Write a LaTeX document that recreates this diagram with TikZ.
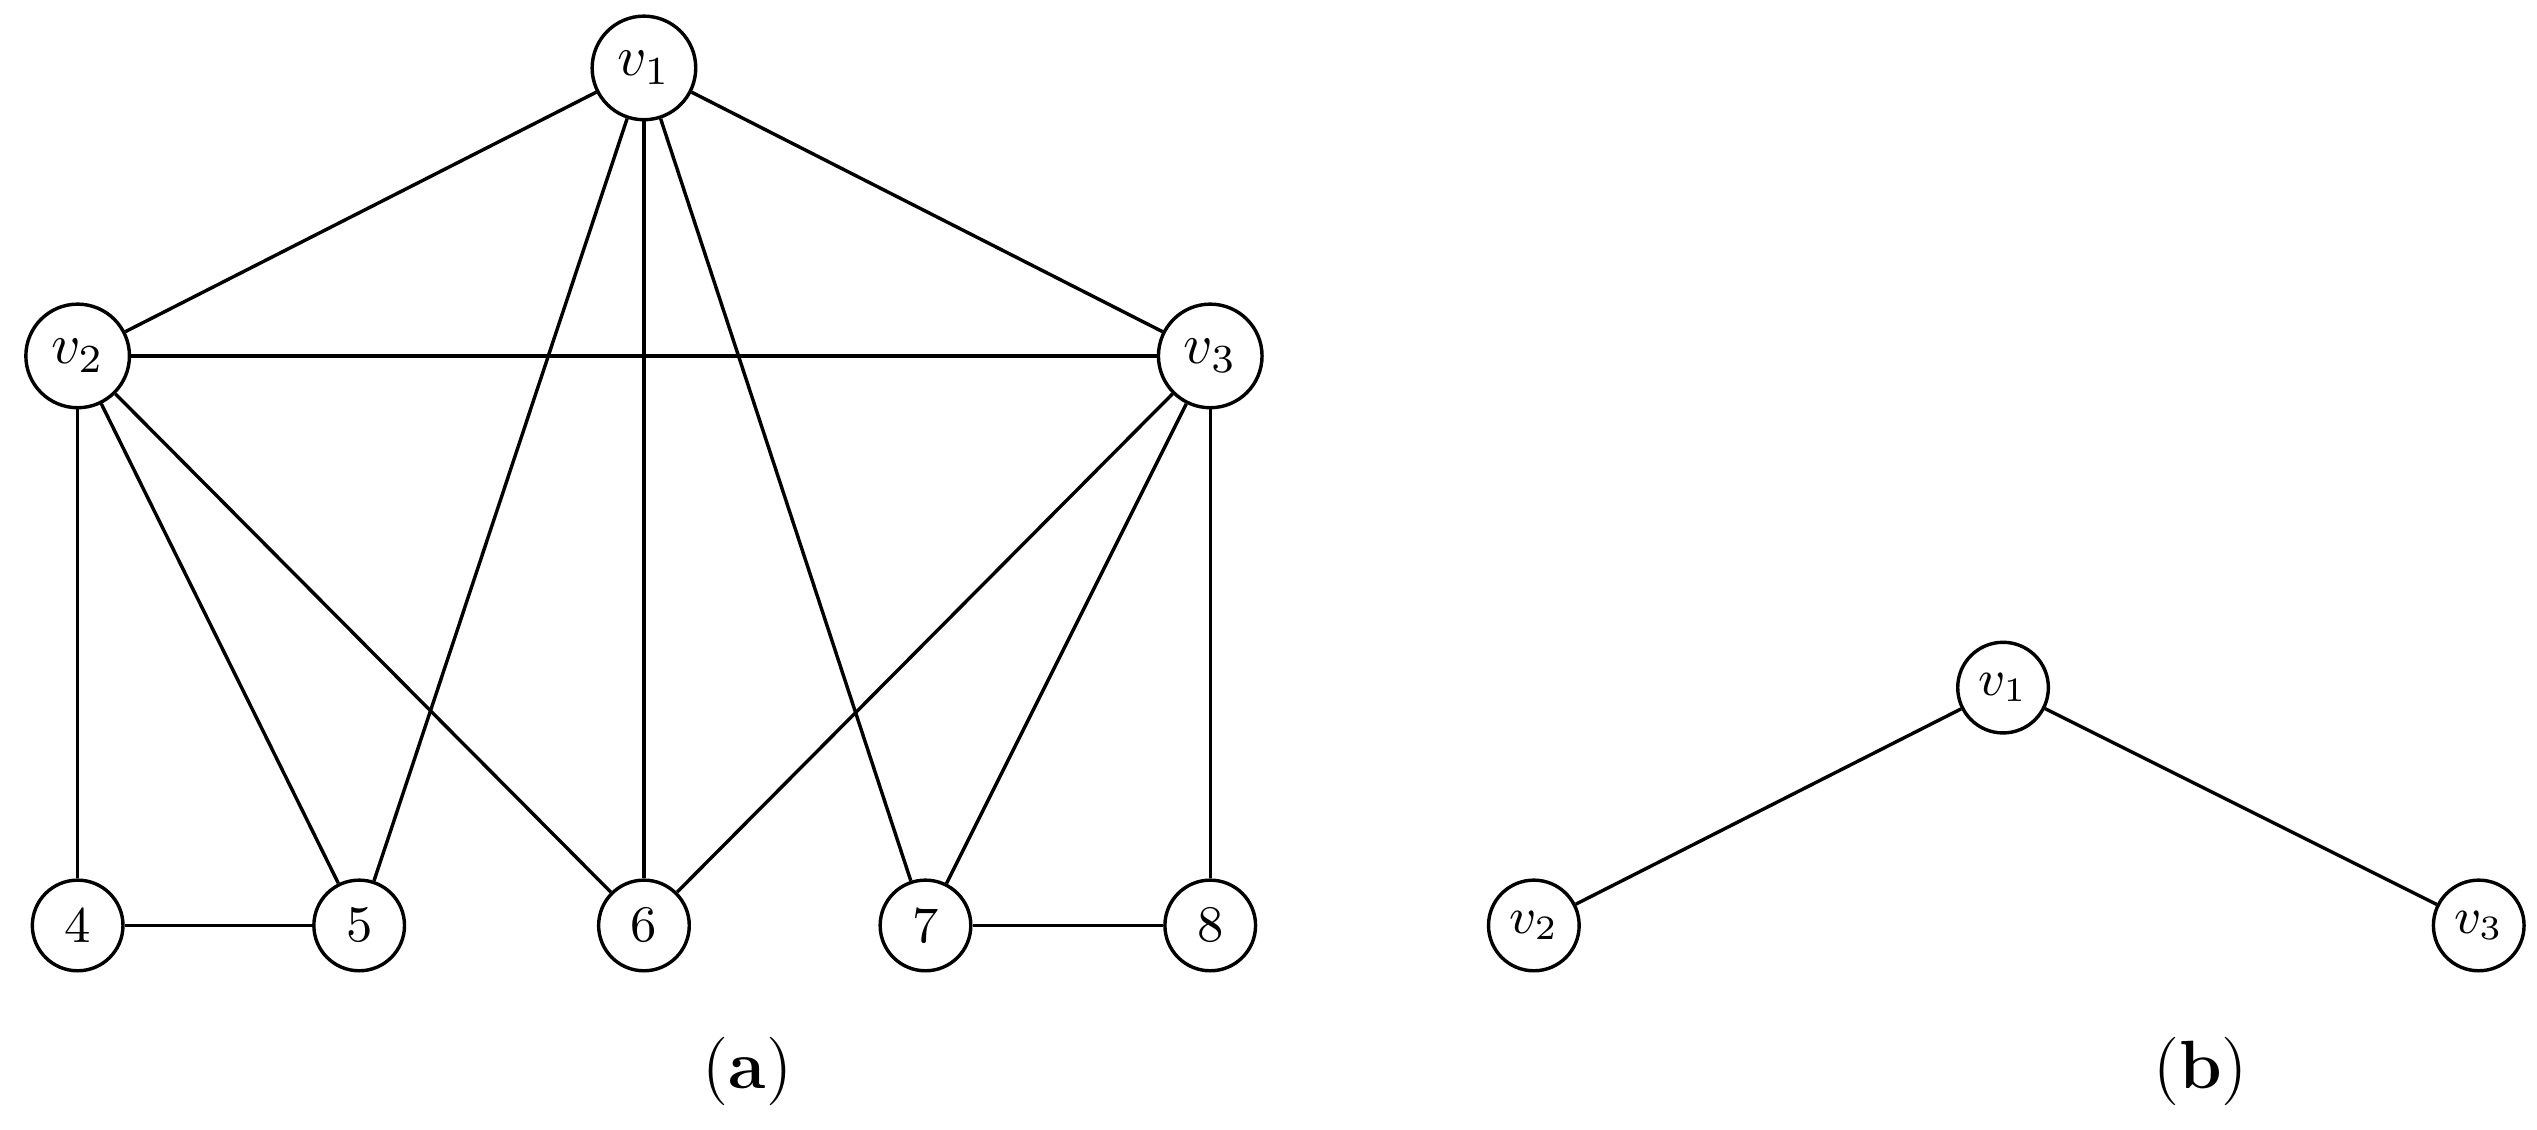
\documentclass[tikz,border=0pt]{standalone}
\begin{document}
\begin{tikzpicture}[x=0.01cm,y=-0.01cm,
  big/.style={circle,draw,line width=0.6pt,minimum size=0.64cm,inner sep=0pt,font=\normalsize},
  sm/.style={circle,draw,line width=0.6pt,minimum size=0.56cm,inner sep=0pt,font=\small},
  e/.style={line width=0.6pt}]
\useasboundingbox (0,0) rectangle (1568,698);
\node[big] (v1) at (398,42) {$v_1$};
\node[big] (v2) at (48,220) {$v_2$};
\node[big] (v3) at (748,220) {$v_3$};
\node[sm] (n4) at (48,572) {4};
\node[sm] (n5) at (222,572) {5};
\node[sm] (n6) at (398,572) {6};
\node[sm] (n7) at (572,572) {7};
\node[sm] (n8) at (748,572) {8};
\foreach \a/\b in {v1/v2,v1/v3,v2/v3,v1/n5,v1/n6,v1/n7,v2/n4,v2/n5,v2/n6,v3/n6,v3/n7,v3/n8,n4/n5,n7/n8}
  \draw[e] (\a) -- (\b);
\node[sm] (b1) at (1238,425) {$v_1$};
\node[sm] (b2) at (948,572) {$v_2$};
\node[sm] (b3) at (1532,572) {$v_3$};
\draw[e] (b1) -- (b2);
\draw[e] (b1) -- (b3);
\node (la) at (462,662) {\large(\textbf{a})};
\node (lb) at (1360,662) {\large(\textbf{b})};
\end{tikzpicture}
\end{document}
